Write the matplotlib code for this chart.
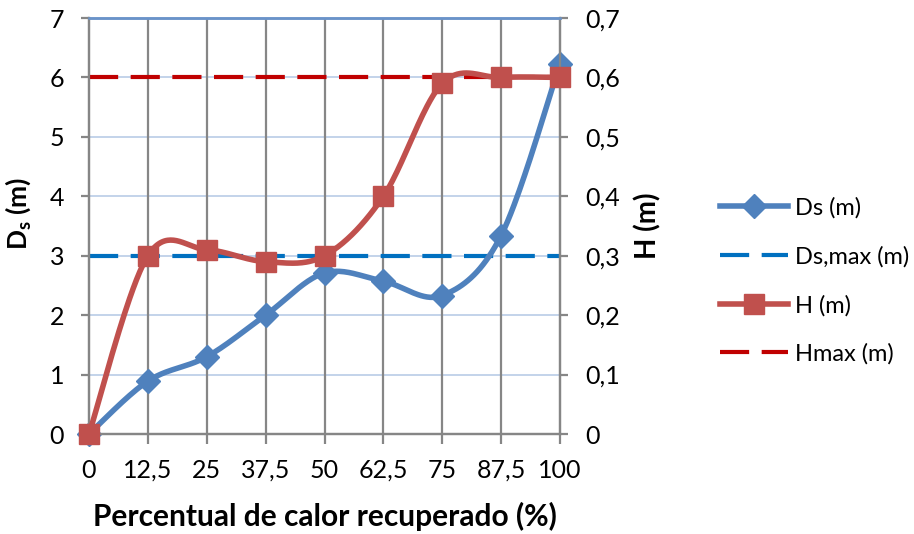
import numpy as np
import matplotlib
matplotlib.use("Agg")
import matplotlib.pyplot as plt
from matplotlib.lines import Line2D

# Data
percent_labels = ["0", "12,5", "25", "37,5", "50", "62,5", "75", "87,5", "100"]
ds_values = [0.0, 0.89, 1.30, 2.00, 2.71, 2.57, 2.33, 3.34, 6.23]
h_values = [0.0, 0.30, 0.31, 0.29, 0.30, 0.40, 0.59, 0.60, 0.60]
ds_max = 3.0
h_max = 0.6

left_ticks = [0, 1, 2, 3, 4, 5, 6, 7]
right_ticks = [0, 0.1, 0.2, 0.3, 0.4, 0.5, 0.6, 0.7]
right_tick_labels = ["0", "0,1", "0,2", "0,3", "0,4", "0,5", "0,6", "0,7"]

FONT = ["Lato", "DejaVu Sans"]
plt.rcParams["font.family"] = FONT
plt.rcParams["mathtext.fontset"] = "custom"
plt.rcParams["mathtext.rm"] = "Lato:bold"
plt.rcParams["mathtext.bf"] = "Lato:bold"

C_DS = "#4F81BD"
C_H = "#C0504D"
C_DSMAX = "#0070C0"
C_HMAX = "#C00000"
C_AXIS = "#868686"
C_HGRID = "#C3D3EA"


def smooth(x, y, n=40):
    """Cubic Bezier smoothing through every point (Catmull-Rom style)."""
    x = np.asarray(x, float)
    y = np.asarray(y, float)
    pts = np.column_stack([x, y])
    out = []
    for i in range(len(pts) - 1):
        p0 = pts[i - 1] if i > 0 else pts[i]
        p1 = pts[i]
        p2 = pts[i + 1]
        p3 = pts[i + 2] if i + 2 < len(pts) else pts[i + 1]
        c1 = p1 + (p2 - p0) / 6.0
        c2 = p2 - (p3 - p1) / 6.0
        t = np.linspace(0, 1, n)[:, None]
        seg = ((1 - t) ** 3) * p1 + 3 * ((1 - t) ** 2) * t * c1 + 3 * (1 - t) * t ** 2 * c2 + t ** 3 * p2
        out.append(seg if i == 0 else seg[1:])
    seg = np.vstack(out)
    return seg[:, 0], seg[:, 1]


fig = plt.figure(figsize=(9.14, 5.34), dpi=100)
ax = fig.add_axes([89 / 914, 1 - 434 / 534, (560 - 89) / 914, (434 - 18) / 534])
ax2 = ax.twinx()

x = np.arange(len(percent_labels))

# Grid
ax.set_xlim(0, len(x) - 1)
ax.set_ylim(0, 7)
ax2.set_ylim(0, 0.7)
for yv in left_ticks[1:-1]:
    ax.axhline(yv, color=C_HGRID, lw=1.4, zorder=0)
for xv in x[1:-1]:
    ax.axvline(xv, color=C_AXIS, lw=1.6, zorder=0.5)

# Left axis series
ax.axhline(ds_max, color=C_DSMAX, lw=3, dashes=(7, 3), zorder=2)
sx, sy = smooth(x, ds_values)
ax.plot(sx, sy, color=C_DS, lw=4, zorder=3, solid_capstyle="round")
ax.plot(x, ds_values, ls="none", marker="D", ms=12, color=C_DS, zorder=4, clip_on=False)

# Right axis series
ax2.axhline(h_max, color=C_HMAX, lw=3, dashes=(7, 3), zorder=2)
hx, hy = smooth(x, h_values)
ax2.plot(hx, hy, color=C_H, lw=4, zorder=3, solid_capstyle="round")
ax2.plot(x, h_values, ls="none", marker="s", ms=14, color=C_H, zorder=4, clip_on=False)

# Spines
for a in (ax, ax2):
    for s in ("left", "right", "bottom"):
        a.spines[s].set_color(C_AXIS)
        a.spines[s].set_linewidth(1.6)
    a.spines["top"].set_color("#6A93C9")
    a.spines["top"].set_linewidth(1.8)

ax.set_xticks(x)
ax.set_xticklabels(percent_labels)
ax.set_yticks(left_ticks)
ax.set_yticklabels([str(v) for v in left_ticks])
ax2.set_yticks(right_ticks)
ax2.set_yticklabels(right_tick_labels)

ax.tick_params(axis="x", length=7, width=1.6, color=C_AXIS, pad=11, labelsize=18)
ax.tick_params(axis="y", length=6, width=1.6, color=C_AXIS, pad=12, labelsize=18)
ax2.tick_params(axis="y", length=6, width=1.6, color=C_AXIS, pad=12, labelsize=18)

ax.set_xlabel("Percentual de calor recuperado (%)", fontsize=21.5, fontweight="bold")
ax.xaxis.set_label_coords(0.5, -0.163)
ax.set_ylabel(r"D$_\mathregular{s}$ (m)", fontsize=19, fontweight="bold")
ax.yaxis.set_label_coords(-0.118, 0.53)
ax2.set_ylabel("H (m)", fontsize=20, fontweight="bold")
ax2.yaxis.set_label_coords(1.157, 0.5)

# Legend
handles = [
    Line2D([], [], color=C_DS, lw=4, marker="D", ms=12),
    Line2D([], [], color=C_DSMAX, lw=3, dashes=(7, 3)),
    Line2D([], [], color=C_H, lw=4, marker="s", ms=14),
    Line2D([], [], color=C_HMAX, lw=3, dashes=(7, 3)),
]
labels = ["Ds (m)", "Ds,max (m)", "H (m)", "Hmax (m)"]
fig.legend(handles, labels, loc="center left", bbox_to_anchor=(708 / 914, 1 - 281 / 534),
           frameon=False, fontsize=17, handlelength=2.9, handletextpad=0.3,
           labelspacing=1.15, borderpad=0)

fig.savefig("out.png", dpi=100)
